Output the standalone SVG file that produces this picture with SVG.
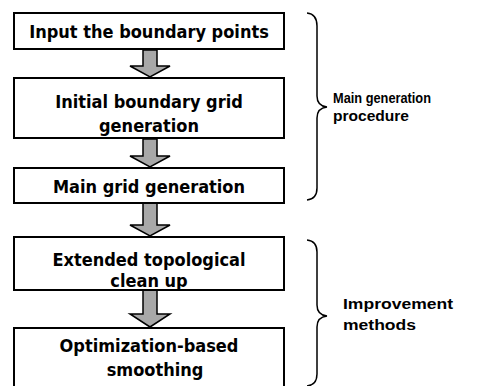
<svg xmlns="http://www.w3.org/2000/svg" width="481" height="386" viewBox="0 0 481 386">
<style>
.box{fill:#fff;stroke:#000;stroke-width:2}
.t{font-family:"DejaVu Sans Condensed","DejaVu Sans","Liberation Sans",Arial,sans-serif;font-stretch:condensed;font-weight:bold;font-size:18px;fill:#000;text-anchor:middle}
.l{font-family:"Liberation Sans",Arial,sans-serif;font-weight:bold;font-size:14px;fill:#000}
.arr{fill:#a8a8a8;stroke:#000;stroke-width:1.5;stroke-linejoin:miter}
.br{fill:none;stroke:#000;stroke-width:1.5}
</style>
<rect width="481" height="386" fill="#fff"/>
<g id="connectors">
<polygon class="arr" points="143,50 157,50 157,66 170,66 150,77 130,66 143,66"/>
<polygon class="arr" points="143,139 157,139 157,156 170,156 150,167 130,156 143,156"/>
<polygon class="arr" points="143,203 157,203 157,225 170,225 150,236 130,225 143,225"/>
<polygon class="arr" points="143,290 157,290 157,314 170,314 150,327 130,314 143,314"/>
</g>
<g id="n1"><rect class="box" x="14" y="13" width="270" height="36"/><text class="t" x="149" y="38">Input the boundary points</text></g>
<g id="n2"><rect class="box" x="14" y="78" width="270" height="60"/><text class="t" x="149" y="108">Initial boundary grid</text><text class="t" x="149" y="132">generation</text></g>
<g id="n3"><rect class="box" x="14" y="168" width="270" height="35"/><text class="t" x="149" y="193">Main grid generation</text></g>
<g id="n4"><rect class="box" x="14" y="237" width="270" height="53"/><text class="t" x="149" y="266">Extended topological</text><text class="t" x="149" y="287">clean up</text></g>
<g id="n5"><rect class="box" x="14" y="328" width="270" height="80"/><text class="t" x="149" y="352">Optimization-based</text><text class="t" x="155" y="376">smoothing</text></g>
<g id="brace1"><path class="br" d="M307,13 Q317,14 317,26 L317,96 Q317,106 327,107 Q317,108 317,118 L317,188 Q317,199 307,200"/><text class="l" x="333" y="103" textLength="98" lengthAdjust="spacingAndGlyphs">Main generation</text><text class="l" x="333" y="121" textLength="76" lengthAdjust="spacingAndGlyphs">procedure</text></g>
<g id="brace2"><path class="br" d="M307,240 Q317,241 317,252 L317,305 Q317,315 327,316 Q317,317 317,327 L317,374 Q317,385 307,386"/><text class="l" x="343" y="309" textLength="110" lengthAdjust="spacingAndGlyphs">Improvement</text><text class="l" x="343" y="330" textLength="73" lengthAdjust="spacingAndGlyphs">methods</text></g>
</svg>
